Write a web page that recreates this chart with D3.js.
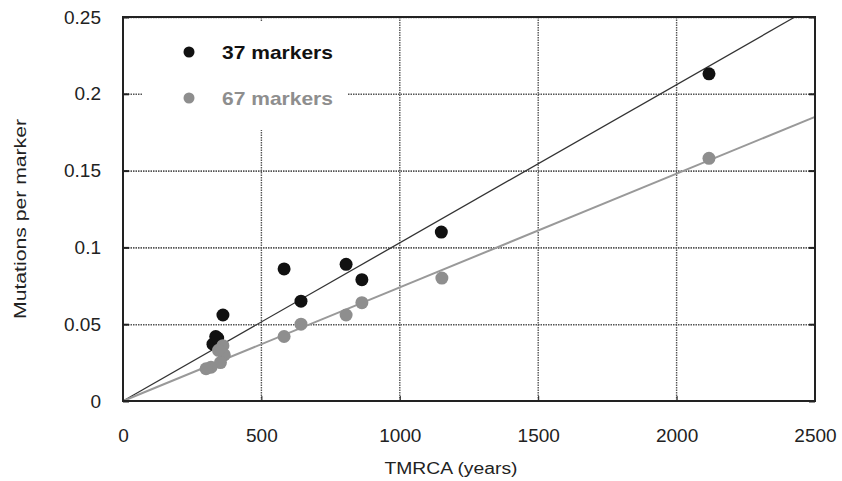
<!DOCTYPE html>
<html>
<head>
<meta charset="utf-8">
<script src="https://cdn.jsdelivr.net/npm/d3@7"></script>
<style>
  body { margin: 0; background: #fff; }
  svg { display: block; font-family: "Liberation Sans", Arial, sans-serif; }
</style>
</head>
<body>
<svg id="chart" width="842" height="481"></svg>
<script>
// data: [TMRCA years, mutations per marker]
var markers37 = [[2117, 0.213], [1150, 0.110], [806, 0.089], [863, 0.079], [643, 0.065],
                 [582, 0.086], [361, 0.056], [335, 0.042], [325, 0.037], [342, 0.041]];
var markers67 = [[2117, 0.158], [1152, 0.080], [863, 0.064], [806, 0.056], [643, 0.050],
                 [582, 0.042], [361, 0.036], [366, 0.030], [352, 0.025], [318, 0.022],
                 [300, 0.021], [345, 0.033]];
var slope37 = 0.000103, slope67 = 0.000074;
var xTicks = [0, 500, 1000, 1500, 2000, 2500];
var yTicks = [0, 0.05, 0.1, 0.15, 0.2, 0.25];
var legendNames = ["37 markers", "67 markers"];

var svg = d3.select("#chart"),
    margin = {top: 17, right: 27, bottom: 80, left: 123},
    width = +svg.attr("width") - margin.left - margin.right,
    height = +svg.attr("height") - margin.top - margin.bottom,
    g = svg.append("g").attr("transform", "translate(" + margin.left + "," + margin.top + ")");

var x = d3.scaleLinear().domain([0, 2500]).range([0, width]),
    y = d3.scaleLinear().domain([0, 0.25]).range([height, 0]);

// grid
g.append("g").selectAll("line").data(yTicks.slice(1)).enter().append("line")
    .attr("x1", 0).attr("x2", width)
    .attr("y1", function(d) { return y(d) + 0.5; }).attr("y2", function(d) { return y(d) + 0.5; })
    .attr("stroke", "#555").attr("stroke-width", 1.6).attr("stroke-dasharray", "1.5,1");
g.append("g").selectAll("line").data(xTicks.slice(1, -1)).enter().append("line")
    .attr("y1", 0).attr("y2", height)
    .attr("x1", function(d) { return x(d); }).attr("x2", function(d) { return x(d); })
    .attr("stroke", "#555").attr("stroke-width", 1.4).attr("stroke-dasharray", "1.5,1");

// axes with inward ticks
g.append("g")
    .attr("transform", "translate(0," + height + ")")
    .call(d3.axisBottom(x).tickValues(xTicks).tickSize(-5).tickPadding(28).tickFormat(d3.format("d")))
    .call(function(a) { a.select(".domain").remove(); a.selectAll("line").attr("stroke", "#222"); });
g.append("g")
    .call(d3.axisLeft(y).tickValues(yTicks).tickSize(-6).tickPadding(22).tickFormat(function(d) { return d; }))
    .call(function(a) { a.select(".domain").remove(); a.selectAll("line").attr("stroke", "#222").attr("stroke-width", 2); });
g.append("g")
    .attr("transform", "translate(" + width + ",0)")
    .call(d3.axisRight(y).tickValues(yTicks).tickSize(-6).tickFormat(""))
    .call(function(a) { a.select(".domain").remove(); a.selectAll("line").attr("stroke", "#222").attr("stroke-width", 2); });
svg.selectAll(".tick text").attr("font-size", "19px").attr("fill", "#222")
    .attr("font-family", "'Liberation Sans', Arial, sans-serif");

// legend background
var leg = g.append("g").attr("transform", "translate(20,5)");
leg.append("rect").attr("x", 0).attr("y", 0).attr("width", 204).attr("height", 108).attr("fill", "#fff");

// trend lines
g.append("line").attr("x1", x(0)).attr("y1", y(0))
    .attr("x2", x(0.25 / slope37)).attr("y2", y(0.25))
    .attr("stroke", "#333").attr("stroke-width", 1.3);
g.append("line").attr("x1", x(0)).attr("y1", y(0))
    .attr("x2", x(2500)).attr("y2", y(2500 * slope67))
    .attr("stroke", "#999").attr("stroke-width", 2);

// points
g.append("g").selectAll("circle").data(markers37).enter().append("circle")
    .attr("cx", function(d) { return x(d[0]); }).attr("cy", function(d) { return y(d[1]); })
    .attr("r", 6.5).attr("fill", "#111");
g.append("g").selectAll("circle").data(markers67).enter().append("circle")
    .attr("cx", function(d) { return x(d[0]); }).attr("cy", function(d) { return y(d[1]); })
    .attr("r", 6.5).attr("fill", "#8e8e8e");

// frame
g.append("rect").attr("width", width).attr("height", height)
    .attr("fill", "none").attr("stroke", "#222").attr("stroke-width", 2);

// legend entries
var legColors = ["#111", "#8e8e8e"];
legendNames.forEach(function(name, i) {
  leg.append("circle").attr("cx", 46).attr("cy", 30 + i * 46).attr("r", 5.5).attr("fill", legColors[i]);
  leg.append("text").attr("x", 79).attr("y", 37 + i * 46)
      .attr("font-size", "19px").attr("font-weight", "bold").attr("fill", legColors[i])
      .attr("textLength", 111).attr("lengthAdjust", "spacingAndGlyphs")
      .text(name);
});

// axis titles
svg.append("text").attr("x", 451).attr("y", 474).attr("text-anchor", "middle")
    .attr("font-size", "16px").attr("fill", "#222")
    .attr("textLength", 133).attr("lengthAdjust", "spacingAndGlyphs").text("TMRCA (years)");
svg.append("text").attr("transform", "translate(26,219) rotate(-90)").attr("text-anchor", "middle")
    .attr("font-size", "16px").attr("fill", "#222")
    .attr("textLength", 200).attr("lengthAdjust", "spacingAndGlyphs").text("Mutations per marker");
</script>
</body>
</html>
